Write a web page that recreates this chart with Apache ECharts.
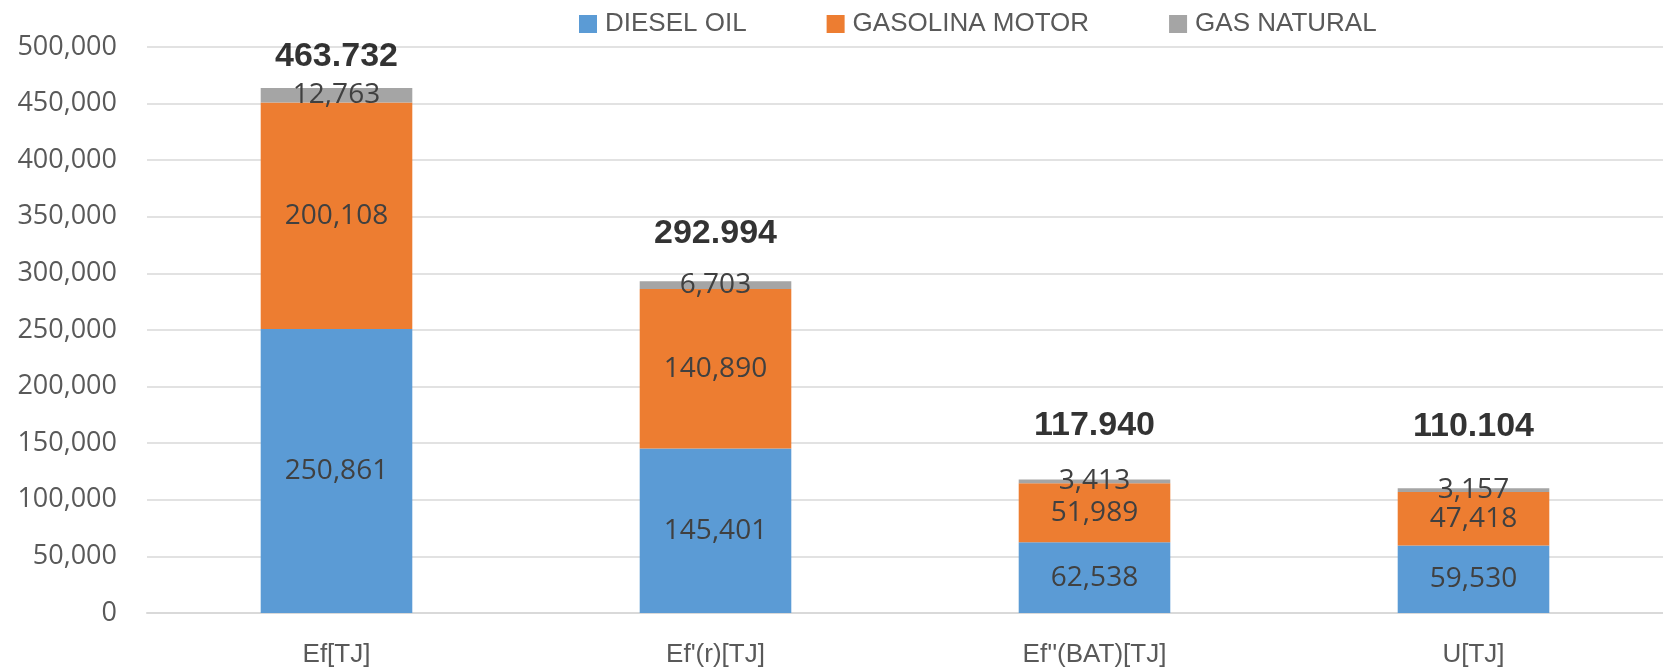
<!DOCTYPE html>
<html>
<head>
    <meta charset="UTF-8">
    <title>Energia</title>
    <script src="https://cdn.jsdelivr.net/npm/echarts@6/dist/echarts.min.js"></script>
    <style>
        * { padding: 0; margin: 0; }
        #main { width: 1663px; height: 670px; background: #fff; }
    </style>
</head>
<body>
<div id="main"></div>
<script>
// categorias y valores
var categorias = ["Ef[TJ]", "Ef'(r)[TJ]", "Ef''(BAT)[TJ]", "U[TJ]"];
var diesel = [250861, 145401, 62538, 59530];
var gasolina = [200108, 140890, 51989, 47418];
var gasNatural = [12763, 6703, 3413, 3157];
var totales = [463732, 292994, 117940, 110104];
var yTicks = { min: 0, max: 500000, interval: 50000 };

// distancia vertical (px) entre el tope de la barra y el centro del total
var totalLift = [31, 48, 54, 62];

function fmtComa(v) {
    return Number(v).toLocaleString('en-US');
}
function fmtPunto(v) {
    return Number(v).toLocaleString('en-US').replace(/,/g, '.');
}

var labelInside = {
    show: true,
    position: 'inside',
    color: '#404040',
    fontFamily: 'Open Sans',
    fontSize: 28,
    formatter: function (p) { return fmtComa(p.value); }
};

var totalData = totales.map(function (v, i) {
    return { value: v, label: { offset: [0, -totalLift[i]] } };
});

var myChart = echarts.init(document.getElementById('main'));

var option = {
    animation: false,
    color: ['#5b9bd5', '#ed7d31', '#a5a5a5'],
    legend: {
        data: ['DIESEL OIL', 'GASOLINA MOTOR', 'GAS NATURAL'],
        top: 6,
        left: 574,
        icon: 'rect',
        itemWidth: 18,
        itemHeight: 18,
        itemGap: 80,
        textStyle: {
            color: '#595959',
            fontFamily: 'Liberation Sans',
            fontSize: 26,
            padding: [0, 0, 0, 3]
        }
    },
    grid: {
        left: 147,
        right: 0,
        top: 47,
        bottom: 57
    },
    xAxis: {
        type: 'category',
        data: categorias,
        axisTick: { show: false },
        axisLine: { lineStyle: { color: '#d9d9d9', width: 2 } },
        axisLabel: {
            color: '#595959',
            fontFamily: 'Liberation Sans',
            fontSize: 26,
            margin: 29
        }
    },
    yAxis: {
        type: 'value',
        min: yTicks.min,
        max: yTicks.max,
        interval: yTicks.interval,
        axisLine: { show: false },
        axisTick: { show: false },
        splitLine: { lineStyle: { color: '#d9d9d9', width: 1.5 } },
        axisLabel: {
            color: '#595959',
            fontFamily: 'Open Sans',
            fontSize: 27,
            margin: 30,
            formatter: function (v) { return fmtComa(v); }
        }
    },
    series: [
        {
            name: 'DIESEL OIL',
            type: 'bar',
            stack: 'total',
            barWidth: '40%',
            data: diesel,
            label: labelInside
        },
        {
            name: 'GASOLINA MOTOR',
            type: 'bar',
            stack: 'total',
            data: gasolina,
            label: labelInside
        },
        {
            name: 'GAS NATURAL',
            type: 'bar',
            stack: 'total',
            data: gasNatural,
            label: labelInside
        },
        {
            name: 'Total',
            type: 'scatter',
            symbolSize: 1,
            silent: true,
            itemStyle: { color: 'rgba(0,0,0,0)' },
            data: totalData,
            label: {
                show: true,
                position: 'inside',
                color: '#000',
                fontFamily: 'Liberation Sans',
                fontWeight: 'bold',
                fontSize: 34,
                formatter: function (p) { return fmtPunto(p.value); }
            },
            z: 5
        }
    ]
};

myChart.setOption(option);
</script>
</body>
</html>
